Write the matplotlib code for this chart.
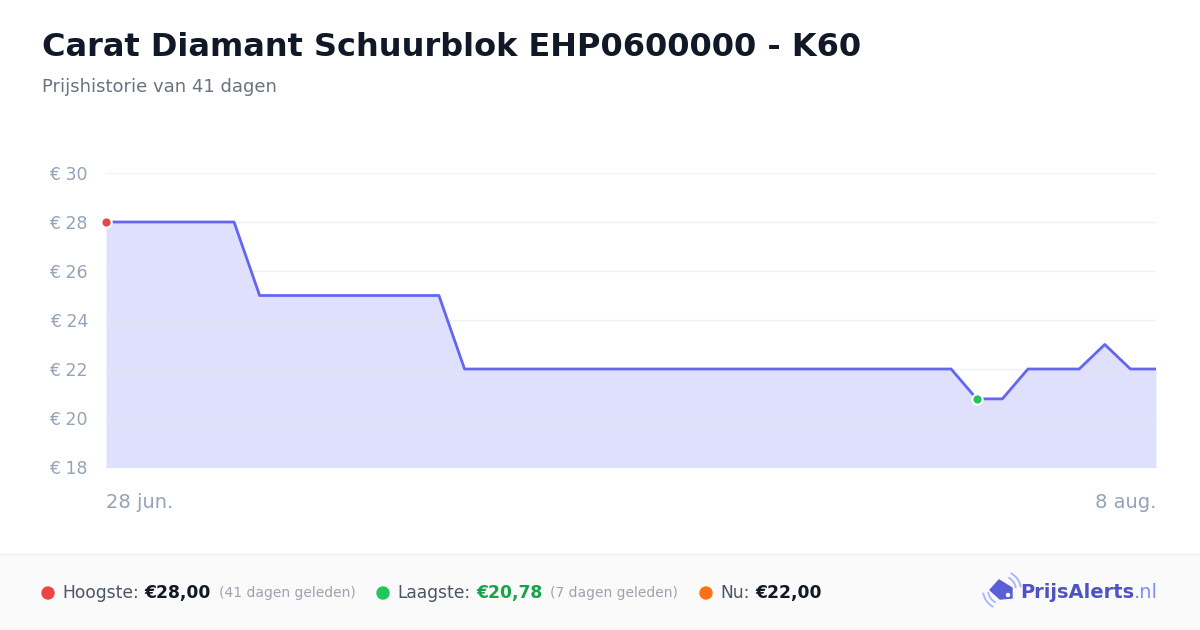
import matplotlib
matplotlib.use('Agg')
import matplotlib.pyplot as plt
import pandas as pd
from matplotlib.patches import Polygon, Arc, Ellipse

plt.rcParams['font.family'] = ['DejaVu Sans']

title = 'Carat Diamant Schuurblok EHP0600000 - K60'
subtitle = 'Prijshistorie van 41 dagen'
dates = pd.date_range('2025-06-28', '2025-08-08', freq='D')
prices = [28, 28, 28, 28, 28, 28,
          25, 25, 25, 25, 25, 25, 25, 25,
          22, 22, 22, 22, 22, 22, 22, 22, 22, 22,
          22, 22, 22, 22, 22, 22, 22, 22, 22, 22,
          20.78, 20.78, 22, 22, 22, 23, 22, 22]
y_ticks = [18, 20, 22, 24, 26, 28, 30]
x_labels = ['28 jun.', '8 aug.']

LINE = '#6366f1'
W, H = 1200, 630

fig = plt.figure(figsize=(12, 6.3), dpi=100)
fig.patch.set_facecolor('white')

# footer band
fig.patches.append(plt.Rectangle((0, 0), 1, 75 / H, transform=fig.transFigure,
                                 facecolor='#fafafa', edgecolor='none', zorder=0))
fig.add_artist(plt.Line2D([0, 1], [76 / H, 76 / H], color='#eeeeee', lw=1))

fig.text(42 / W, 1 - 47 / H, title, fontsize=23, fontweight='bold', color='#111827',
         va='center', ha='left')
fig.text(42 / W, 1 - 87 / H, subtitle, fontsize=13, color='#6b7280', va='center', ha='left')

ax = fig.add_axes([106 / W, 1 - 467 / H, 1050 / W, 294 / H])
ax.fill_between(dates, prices, 18, color=LINE, alpha=0.2, lw=0, zorder=1)
ax.plot(dates, prices, color=LINE, lw=2, zorder=3, solid_joinstyle='round')
imax = prices.index(max(prices))
imin = prices.index(min(prices))
ax.scatter([dates[imax]], [prices[imax]], s=55, color='#ef4444', edgecolor='white', lw=1.5, zorder=4, clip_on=False)
ax.scatter([dates[imin]], [prices[imin]], s=55, color='#22c55e', edgecolor='white', lw=1.5, zorder=4, clip_on=False)

ax.set_xlim(dates[0], dates[-1])
ax.set_ylim(18, 30)
ax.set_yticks(y_ticks)
ax.set_yticklabels([f'€ {v}' for v in y_ticks], color='#94a3b8', fontsize=12.5)
ax.tick_params(axis='y', length=0, pad=13)
ax.set_xticks([])
ax.grid(axis='y', color='#e5e7eb', lw=1, alpha=0.6, zorder=2)
for s in ['top', 'right', 'left']:
    ax.spines[s].set_visible(False)
ax.spines['bottom'].set_color('#e0e2ef')
ax.set_facecolor('none')

fig.text(106 / W, 1 - 503 / H, x_labels[0], fontsize=14, color='#94a3b8', ha='left', va='center')
fig.text(1156 / W, 1 - 503 / H, x_labels[1], fontsize=14, color='#94a3b8', ha='right', va='center')

# footer stats
renderer = fig.canvas.get_renderer()
fy = 1 - 593 / H


def run(x_px, parts):
    for text, size, weight, color, gap in parts:
        t = fig.text(x_px / W, fy, text, fontsize=size, fontweight=weight, color=color,
                     ha='left', va='center')
        bb = t.get_window_extent(renderer)
        x_px = bb.x1 + gap
    return x_px


def dot(x_px, color):
    fig.add_artist(Ellipse((x_px / W, fy), 12 / W, 12 / H, transform=fig.transFigure,
                           color=color))


dot(48, '#ef4444')
run(62, [('Hoogste:', 12.3, 'normal', '#4b5563', 6), ('€28,00', 12.3, 'bold', '#111827', 8),
         ('(41 dagen geleden)', 10, 'normal', '#9ca3af', 0)])
dot(383, '#22c55e')
run(397, [('Laagste:', 12.3, 'normal', '#4b5563', 6), ('€20,78', 12.3, 'bold', '#16a34a', 8),
          ('(7 dagen geleden)', 10, 'normal', '#9ca3af', 0)])
dot(706, '#f97316')
run(720, [('Nu:', 12.3, 'normal', '#4b5563', 6), ('€22,00', 12.3, 'bold', '#111827', 0)])

# logo
t_nl = fig.text(1158 / W, fy, '.nl', fontsize=14, color='#818cf8', ha='right', va='center')
bb = t_nl.get_window_extent(renderer)
t_pa = fig.text(bb.x0 / W, fy, 'PrijsAlerts', fontsize=14, fontweight='bold', color='#4f52c4',
                ha='right', va='center')
tag = [(990, 590), (999, 580), (1012, 588), (1012, 598), (1000, 599)]
fig.add_artist(Polygon([(px / W, 1 - py / H) for px, py in tag], closed=True,
                       transform=fig.transFigure, color='#5b5fd6'))
fig.add_artist(Ellipse((1008 / W, 1 - 595 / H), 3 / W, 3 / H, transform=fig.transFigure, color='white'))
cx, cy = 1002, 590
for r in (14, 19):
    for a1, a2 in ((195, 255), (15, 75)):
        fig.add_artist(Arc((cx / W, 1 - cy / H), 2 * r / W, 2 * r / H, theta1=a1, theta2=a2,
                           transform=fig.transFigure, color='#a5b4fc', lw=1.3))

fig.savefig('out.png', dpi=100)
